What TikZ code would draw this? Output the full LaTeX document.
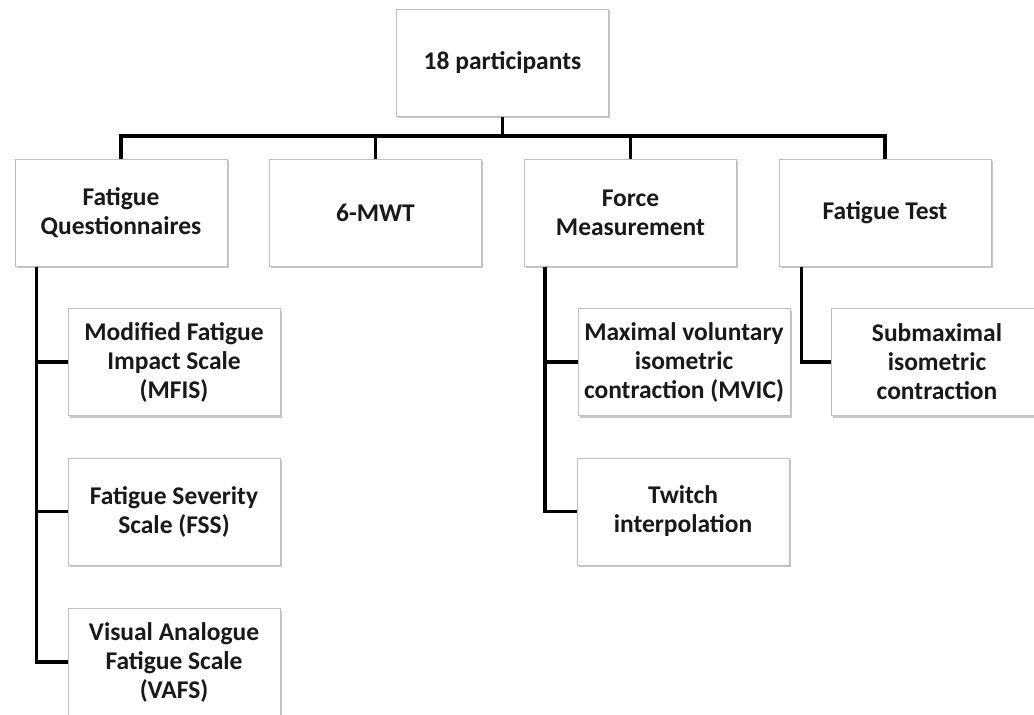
\documentclass[tikz,border=0pt]{standalone}
\usepackage{fontspec}
\setmainfont{Carlito}
\usetikzlibrary{shadows}
\begin{document}
\begin{tikzpicture}[x=1pt,y=-1pt,
  box/.style={draw=black!25, line width=1pt, fill=white,
    drop shadow={shadow xshift=1.5pt, shadow yshift=-2pt, fill=black, opacity=0.22},
    minimum width=212pt, minimum height=107pt, inner sep=0pt,
    align=center, font=\fontsize{25.5}{29}\selectfont\bfseries, text=black!90},
  link/.style={line width=3.5pt, line join=miter, black}]
\clip (0,0) rectangle (1034,715);
\fill[white] (0,0) rectangle (1034,715);
% nodes
\node[box] (top) at (502.5,62.5) {18 participants};
\node[box] (fq) at (121,212.5) {Fatigue\\Questionnaires};
\node[box] (mwt) at (375.5,212.5) {6-MWT};
\node[box] (fm) at (630.5,212.5) {Force\\Measurement};
\node[box] (ft) at (885,212.5) {Fatigue Test};
\node[box] (mfis) at (174,362) {Modified Fatigue\\Impact Scale\\(MFIS)};
\node[box] (fss) at (174,511.5) {Fatigue Severity\\Scale (FSS)};
\node[box] (vafs) at (174,662) {Visual Analogue\\Fatigue Scale\\(VAFS)};
\node[box] (mvic) at (684,362) {Maximal voluntary\\isometric\\contraction (MVIC)};
\node[box] (tw) at (683,511.5) {Twitch\\interpolation};
\node[box] (sub) at (937,362) {Submaximal\\isometric\\contraction};
% connectors
\coordinate (bar) at (502.5,136);
\draw[link] (top.south) -- (bar);
\draw[link] (bar) -| (fq.north);
\draw[link] (bar) -| (mwt.north);
\draw[link] (bar) -| (fm.north);
\draw[link] (bar) -| (ft.north);
\draw[link] ([xshift=22pt]fq.south west) |- (mfis.west);
\draw[link] ([xshift=22pt]fq.south west) |- (fss.west);
\draw[link] ([xshift=22pt]fq.south west) |- (vafs.west);
\draw[link] ([xshift=21pt]fm.south west) |- (mvic.west);
\draw[link] ([xshift=21pt]fm.south west) |- (tw.west);
\draw[link] ([xshift=23pt]ft.south west) |- (sub.west);
\end{tikzpicture}
\end{document}
